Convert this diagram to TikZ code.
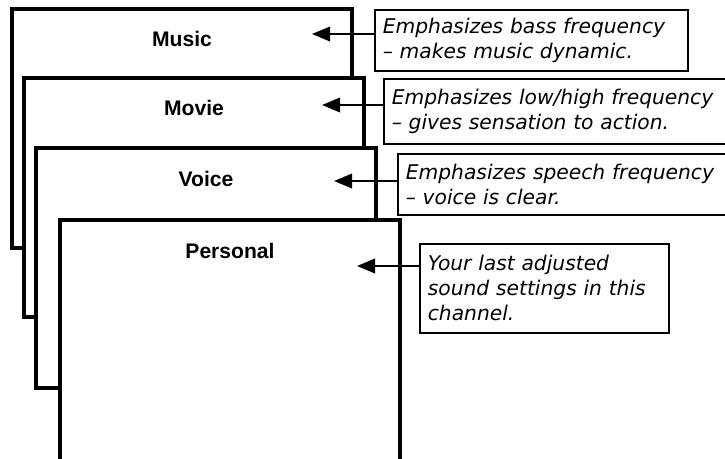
\documentclass[tikz,border=0pt]{standalone}
\usepackage{fontspec}
\setmainfont{DejaVu Sans}
\newfontfamily\titlefont{Liberation Sans}
\usetikzlibrary{arrows.meta}

\tikzset{
  page/.style={draw, fill=white, line width=2.4pt},
  pagetitle/.style={anchor=base, font=\titlefont\bfseries\fontsize{15}{18}\selectfont},
  note/.style={draw, fill=white, line width=1.2pt, anchor=north west, align=left,
    inner xsep=0.2cm, inner ysep=0pt, font=\itshape\fontsize{14.4}{17.8}\selectfont},
  pointer/.style={line width=1.6pt, -{Triangle[length=0.45cm,width=0.36cm]}}
}

\begin{document}
\begin{tikzpicture}[x=0.025cm, y=-0.025cm]
        \clip (0,0) rectangle (725,459);

        % Stacked pages, back to front
        \draw[page] (12,9) rectangle (352,248);
        \draw[page] (24,78) rectangle (364,317);
        \draw[page] (36,148) rectangle (376,388);
        \draw[page] (60,220) rectangle (400,480);

        % Page titles
        \node[pagetitle] (music) at (182,47) {Music};
        \node[pagetitle] (movie) at (194,116) {Movie};
        \node[pagetitle] (voice) at (206,187) {Voice};
        \node[pagetitle] (personal) at (230,259) {Personal};

        % Where the pointers end
        \coordinate (musictip) at (312,34);
        \coordinate (movietip) at (322,105);
        \coordinate (voicetip) at (334,181);
        \coordinate (personaltip) at (357,266);

        % Explanations
        \node[note, text width=7.43cm, minimum height=1.525cm] (musicnote) at (374,9)
            {Emphasizes bass frequency\\– makes music dynamic.};
        \node[note, text width=8.6cm, minimum height=1.625cm] (movienote) at (383,78)
            {Emphasizes low/high frequency\\– gives sensation to action.};
        \node[note, text width=8.6cm, minimum height=1.525cm] (voicenote) at (397,153)
            {Emphasizes speech frequency\\– voice is clear.};
        \node[note, text width=5.83cm, minimum height=2.225cm] (personalnote) at (419,243)
            {Your last adjusted\\sound settings in this\\channel.};

        % Pointers
        \draw[pointer] (musicnote.west |- musictip) -- (musictip);
        \draw[pointer] (movienote.west |- movietip) -- (movietip);
        \draw[pointer] (voicenote.west |- voicetip) -- (voicetip);
        \draw[pointer] (personalnote.west |- personaltip) -- (personaltip);
\end{tikzpicture}
\end{document}
